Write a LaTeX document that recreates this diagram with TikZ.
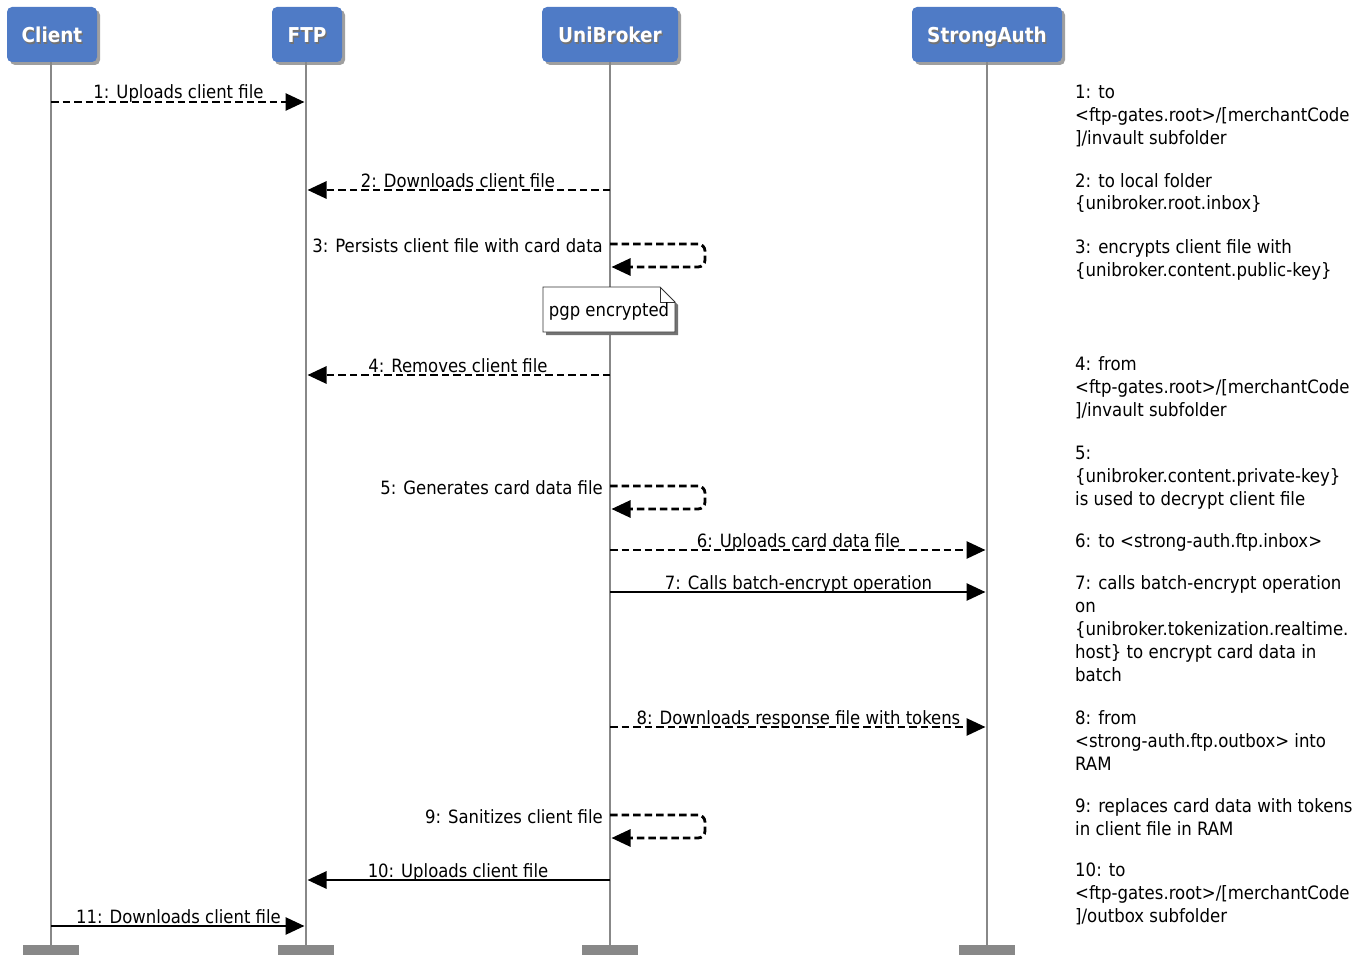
\documentclass[tikz,border=0pt]{standalone}
\usepackage{fontspec}
\setmainfont{DejaVu Sans Condensed}
\usetikzlibrary{arrows.meta,shadows}
\definecolor{hdrblue}{HTML}{4F7BC6}
\definecolor{lifegray}{HTML}{888888}
\newcommand\hdrtext[1]{\rlap{\kern1.2pt\raisebox{-1.2pt}{\color{black!55}#1}}#1}
% a left-aligned block whose baseline is that of its first line
\newcommand\lines[1]{\begin{tabular}[t]{@{}l@{}}#1\end{tabular}}
\tikzset{
  actor/.style={fill=hdrblue, rounded corners=5pt, minimum height=55pt, inner sep=0pt,
    text height=19pt, text depth=2pt,
    drop shadow={shadow xshift=3pt, shadow yshift=-3pt, opacity=0.5, fill=black!75},
    text=white, font=\fontsize{20.5}{24}\selectfont\bfseries},
  endbar/.style={fill=lifegray, minimum width=56pt, minimum height=10pt, inner sep=0pt},
  lifeline/.style={draw=lifegray, line width=2.6pt},
  msg/.style={line width=2.8pt, -{Triangle[length=19pt,width=17pt]}, shorten >=1.5pt},
  async/.style={msg, dash pattern=on 7.5pt off 4pt},
  lbl/.style={font=\fontsize{18.3}{23}\selectfont, anchor=base, inner sep=0pt},
  selflbl/.style={lbl, anchor=base east},
  sidenote/.style={font=\fontsize{18.4}{23}\selectfont, anchor=base west, inner sep=0pt},
}
\begin{document}
\begin{tikzpicture}[x=1pt,y=-1pt]
\useasboundingbox (0,0) rectangle (1369,955);

% participants
\node[actor, minimum width=90pt]  (client) at (52,34.5)  {\hdrtext{Client}};
\node[actor, minimum width=70pt]  (ftp)    at (307,34.5) {\hdrtext{FTP}};
\node[actor, minimum width=136pt] (uni)    at (610,34.5) {\hdrtext{UniBroker}};
\node[actor, minimum width=150pt] (auth)   at (987,34.5) {\hdrtext{StrongAuth}};

\node[endbar] (clientEnd) at (51,950)  {};
\node[endbar] (ftpEnd)    at (306,950) {};
\node[endbar] (uniEnd)    at (610,950) {};
\node[endbar] (authEnd)   at (987,950) {};

% lifelines
\draw[lifeline] (client.south -| clientEnd) -- (clientEnd.north);
\draw[lifeline] (ftp.south -| ftpEnd)       -- (ftpEnd.north);
\draw[lifeline] (uni.south -| uniEnd)       -- (uniEnd.north);
\draw[lifeline] (auth.south -| authEnd)     -- (authEnd.north);

% note on UniBroker
\fill[black!55] (546,290) -- (663,290) -- (678,305) -- (678,335) -- (546,335) -- cycle;
\filldraw[fill=white, draw=black!80, line width=0.9pt]
  (543,287) -- (660,287) -- (675,302) -- (675,332) -- (543,332) -- cycle;
\draw[black!80, line width=0.9pt] (660,287) -- (660,302) -- (675,302);
\node[font=\fontsize{18.3}{23}\selectfont, inner sep=0pt] (note) at (609,311) {pgp encrypted};

% messages
\draw[async] (clientEnd |- 0,102) -- node[lbl, yshift=3pt] {1: Uploads client file} (ftpEnd |- 0,102);
\draw[async] (uniEnd |- 0,190) -- node[lbl, yshift=3pt] {2: Downloads client file} (ftpEnd |- 0,190);
\draw[async, rounded corners=7pt] (uniEnd |- 0,244) -- ++(95,0) -- ++(0,23) -- (uniEnd |- 0,267);
\node[selflbl] (m3) at (603,252) {3: Persists client file with card data};
\draw[async] (uniEnd |- 0,375) -- node[lbl, yshift=3pt] {4: Removes client file} (ftpEnd |- 0,375);
\draw[async, rounded corners=7pt] (uniEnd |- 0,486) -- ++(95,0) -- ++(0,23) -- (uniEnd |- 0,509);
\node[selflbl] (m5) at (603,494) {5: Generates card data file};
\draw[async] (uniEnd |- 0,550) -- node[lbl, yshift=3pt] {6: Uploads card data file} (authEnd |- 0,550);
\draw[msg] (uniEnd |- 0,592) -- node[lbl, yshift=3pt] {7: Calls batch-encrypt operation} (authEnd |- 0,592);
\draw[async] (uniEnd |- 0,727) -- node[lbl, yshift=3pt] {8: Downloads response file with tokens} (authEnd |- 0,727);
\draw[async, rounded corners=7pt] (uniEnd |- 0,815) -- ++(95,0) -- ++(0,23) -- (uniEnd |- 0,838);
\node[selflbl] (m9) at (603,823) {9: Sanitizes client file};
\draw[msg] (uniEnd |- 0,880) -- node[lbl, yshift=3pt] {10: Uploads client file} (ftpEnd |- 0,880);
\draw[msg] (clientEnd |- 0,926) -- node[lbl, yshift=3pt] {11: Downloads client file} (ftpEnd |- 0,926);

% side notes
\node[sidenote] (n1) at (1075,99) {\lines{1: to\\<ftp-gates.root>/[merchantCode\\]/invault subfolder}};
\node[sidenote] (n2) at (1075,187) {\lines{2: to local folder\\\{unibroker.root.inbox\}}};
\node[sidenote] (n3) at (1075,253) {\lines{3: encrypts client file with\\\{unibroker.content.public-key\}}};
\node[sidenote] (n4) at (1075,370) {\lines{4: from\\<ftp-gates.root>/[merchantCode\\]/invault subfolder}};
\node[sidenote] (n5) at (1075,459) {\lines{5:\\\{unibroker.content.private-key\}\\is used to decrypt client file}};
\node[sidenote] (n6) at (1075,547) {\lines{6: to <strong-auth.ftp.inbox>}};
\node[sidenote] (n7) at (1075,589) {\lines{7: calls batch-encrypt operation\\on\\\{unibroker.tokenization.realtime.\\host\} to encrypt card data in\\batch}};
\node[sidenote] (n8) at (1075,724) {\lines{8: from\\<strong-auth.ftp.outbox> into\\RAM}};
\node[sidenote] (n9) at (1075,812) {\lines{9: replaces card data with tokens\\in client file in RAM}};
\node[sidenote] (n10) at (1075,876) {\lines{10: to\\<ftp-gates.root>/[merchantCode\\]/outbox subfolder}};
\end{tikzpicture}
\end{document}
